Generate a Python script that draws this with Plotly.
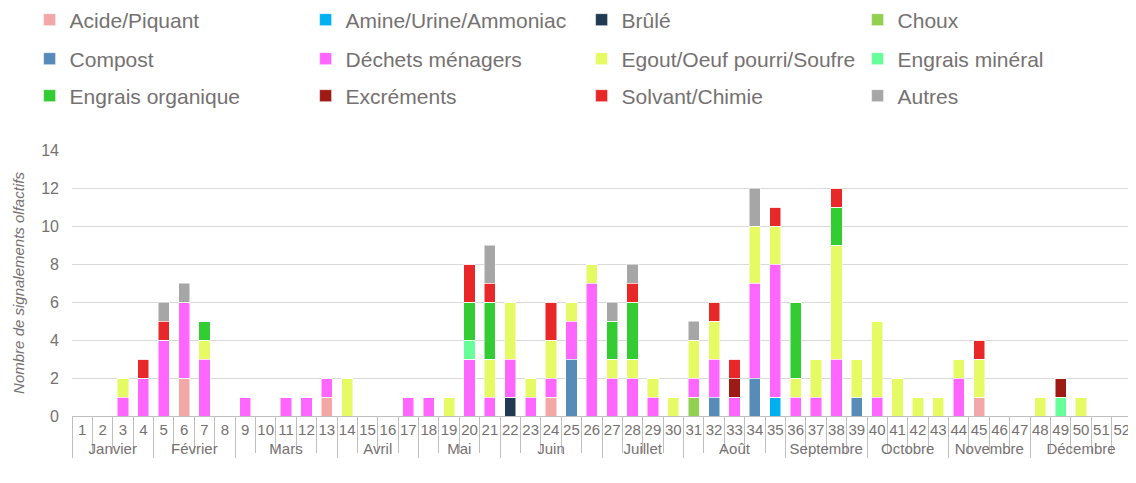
import plotly.graph_objects as go

weeks = [str(w) for w in range(1, 53)]
months = (["Janvier"] * 4 + ["Février"] * 4 + ["Mars"] * 5 + ["Avril"] * 4 +
          ["Mai"] * 4 + ["Juin"] * 5 + ["Juillet"] * 4 + ["Août"] * 5 +
          ["Septembre"] * 4 + ["Octobre"] * 4 + ["Novembre"] * 4 + ["Décembre"] * 5)

# signalements par semaine (semaines 1..52)
acide = [0,0,0,0,0,2,0,0,0,0,0,0,1,0,0,0,0,0,0,0,0,0,0,1,0,0,0,0,0,0,0,0,0,0,0,0,0,0,0,0,0,0,0,0,1,0,0,0,0,0,0,0]
amine = [0]*34 + [1] + [0]*17
brule = [0]*21 + [1] + [0]*30
choux = [0]*30 + [1] + [0]*21
compost = [0,0,0,0,0,0,0,0,0,0,0,0,0,0,0,0,0,0,0,0,0,0,0,0,3,0,0,0,0,0,0,1,0,2,0,0,0,0,1,0,0,0,0,0,0,0,0,0,0,0,0,0]
dechets = [0,0,1,2,4,4,3,0,1,0,1,1,1,0,0,0,1,1,0,3,1,2,1,1,2,7,2,2,1,0,1,2,1,5,7,1,1,3,0,1,0,0,0,2,0,0,0,0,0,0,0,0]
egout = [0,0,1,0,0,0,1,0,0,0,0,0,0,2,0,0,0,0,1,0,2,3,1,2,1,1,1,1,1,1,2,2,0,3,2,1,2,6,2,4,2,1,1,1,2,0,0,1,0,1,0,0]
engrais_min = [0]*19 + [1] + [0]*28 + [1] + [0]*3
engrais_org = [0,0,0,0,0,0,1,0,0,0,0,0,0,0,0,0,0,0,0,2,3,0,0,0,0,0,2,3,0,0,0,0,0,0,0,4,0,2,0,0,0,0,0,0,0,0,0,0,0,0,0,0]
excrements = [0]*32 + [1] + [0]*15 + [1] + [0]*3
solvant = [0,0,0,1,1,0,0,0,0,0,0,0,0,0,0,0,0,0,0,2,1,0,0,2,0,0,0,1,0,0,0,1,1,0,1,0,0,1,0,0,0,0,0,0,1,0,0,0,0,0,0,0]
autres = [0,0,0,0,1,1,0,0,0,0,0,0,0,0,0,0,0,0,0,0,2,0,0,0,0,0,1,1,0,0,1,0,0,2,0,0,0,0,0,0,0,0,0,0,0,0,0,0,0,0,0,0]

series = [
    ("Acide/Piquant", acide, "#F4A7A7"),
    ("Amine/Urine/Ammoniac", amine, "#00B0F0"),
    ("Brûlé", brule, "#203A52"),
    ("Choux", choux, "#92D050"),
    ("Compost", compost, "#578BB8"),
    ("Déchets ménagers", dechets, "#FF66FF"),
    ("Egout/Oeuf pourri/Soufre", egout, "#E6FA64"),
    ("Engrais minéral", engrais_min, "#66FF99"),
    ("Engrais organique", engrais_org, "#33CC33"),
    ("Excréments", excrements, "#9E1A14"),
    ("Solvant/Chimie", solvant, "#E82828"),
    ("Autres", autres, "#A6A6A6"),
]

FONT = "Liberation Sans, Arial, sans-serif"
GREY = "#767171"
# la page ajoute une marge de 8 px autour du graphique
W, H = 1128, 475
ML, MR, MT, MB = 64, 4, 142, 67
PW, PH = W - ML - MR, H - MT - MB

fig = go.Figure()
for i, (name, vals, color) in enumerate(series):
    row = i // 4
    fig.add_trace(go.Bar(
        x=[months, weeks], y=vals, name=name,
        legend="legend" if row == 0 else f"legend{row + 1}",
        marker=dict(color=color, line=dict(color="white", width=0.5)),
    ))

# une légende horizontale par ligne, 4 colonnes
legend_rows = [12, 51, 88]
legends = {}
for k, ypix in enumerate(legend_rows):
    key = "legend" if k == 0 else f"legend{k + 1}"
    legends[key] = dict(
        orientation="h",
        x=(21.6 - ML) / PW, y=(H - MB - ypix) / PH,
        xanchor="left", yanchor="middle",
        entrywidth=231, entrywidthmode="pixels",
        font=dict(size=21, color=GREY), traceorder="normal",
        bgcolor="rgba(0,0,0,0)",
    )

fig.update_layout(
    barmode="stack",
    bargap=0.45,
    width=W, height=H,
    margin=dict(l=ML, r=MR, t=MT, b=MB, autoexpand=False),
    plot_bgcolor="white", paper_bgcolor="white",
    font=dict(family=FONT, color=GREY, size=15),
    showlegend=True,
    **legends,
)
fig.update_yaxes(
    range=[0, 14], dtick=2, gridcolor="#D9D9D9", gridwidth=1,
    zeroline=False, showline=False, ticks="",
    tickfont=dict(size=16), ticklabelstandoff=12,
    title=dict(text="Nombre de signalements olfactifs",
               font=dict(size=15, style="italic", color=GREY), standoff=12),
)
fig.update_xaxes(
    type="multicategory", showline=True, linecolor="#BFBFBF",
    ticks="outside", tickson="boundaries", ticklen=36, tickcolor="#BFBFBF",
    showdividers=True, dividercolor="#BFBFBF", dividerwidth=1,
    tickfont=dict(size=15), tickangle=0,
)

fig.write_html("out.html")
